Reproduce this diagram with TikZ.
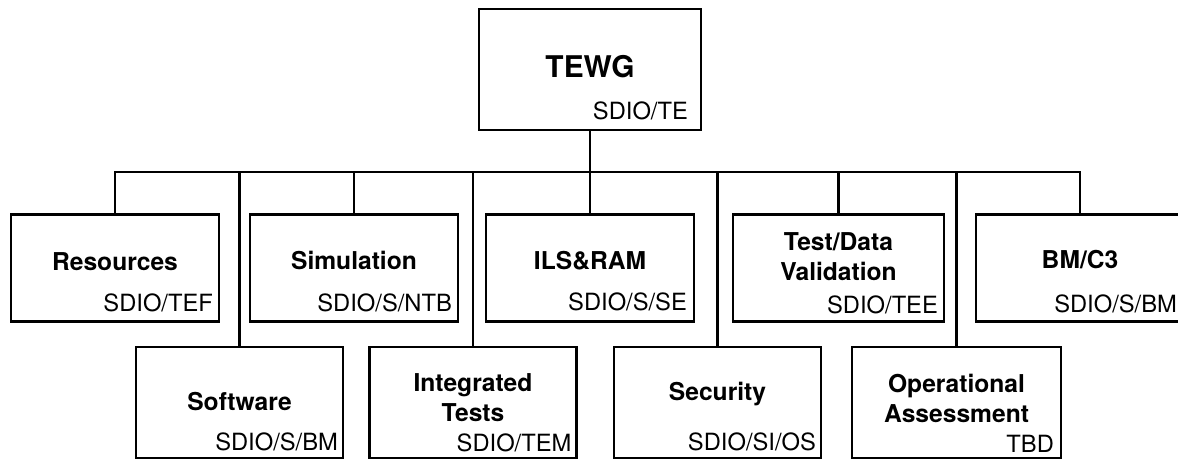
\documentclass[tikz,border=0pt]{standalone}
\usepackage{fontspec}
\setmainfont{TeX Gyre Heros}
\usepackage{tikz}
\usetikzlibrary{positioning}

\begin{document}
\begin{tikzpicture}[
          unit/.style={draw, line width=1.4pt, minimum width=4.16cm, minimum height=2.14cm, inner sep=0pt},
          lowunit/.style={unit, minimum width=4.14cm, minimum height=2.22cm},
          title/.style={anchor=base, align=center, inner sep=0pt, font=\fontsize{14}{16.8}\selectfont\bfseries},
          code/.style={anchor=base east, inner sep=0pt, font=\fontsize{13.5}{16}\selectfont},
          link/.style={line width=1.2pt}
        ]
        \useasboundingbox (0,0) rectangle (23.56,-9.2);
        % head of the group
        \node[unit, minimum width=4.44cm, minimum height=2.42cm] (tewg) at (11.8,-1.39) {};
        \node[title, font=\fontsize{17}{20}\selectfont\bfseries] (tewg-t) at ([yshift=-1.5mm]tewg.center) {TEWG};
        \node[code] (tewg-c) at ([xshift=-2.8mm,yshift=2.4mm]tewg.south east) {SDIO/TE};
        % upper row
        \node[unit] (res) at (2.30,-5.36) {};
        \node[unit] (sim) at (7.08,-5.36) {};
        \node[unit] (ils) at (11.8,-5.36) {};
        \node[unit, minimum width=4.22cm] (tdv) at (16.77,-5.36) {};
        \node[unit] (bmc) at (21.6,-5.36) {};
        % lower row
        \node[lowunit] (soft) at (4.79,-8.05) {};
        \node[lowunit] (integ) at (9.46,-8.05) {};
        \node[lowunit] (sec) at (14.35,-8.05) {};
        \node[lowunit, minimum width=4.18cm] (opas) at (19.13,-8.05) {};
        % titles (base = last line)
        \node[title] (res-t) at ([yshift=-0.5mm]res.center) {Resources};
        \node[title] (sim-t) at ([yshift=-0.3mm]sim.center) {Simulation};
        \node[title] (ils-t) at ([yshift=-0.2mm]ils.center) {ILS\&RAM};
        \node[title] (tdv-t) at ([yshift=-2.5mm]tdv.center) {Test/Data\\Validation};
        \node[title] (bmc-t) at (bmc.center) {BM/C3};
        \node[title] (soft-t) at ([yshift=-1.5mm]soft.center) {Software};
        \node[title] (integ-t) at ([yshift=-3.7mm]integ.center) {Integrated\\Tests};
        \node[title] (sec-t) at ([yshift=0.5mm]sec.center) {Security};
        \node[title] (opas-t) at ([yshift=-3.9mm]opas.center) {Operational\\Assessment};
        % office codes
        \node[code] (res-c) at ([xshift=-1.4mm,yshift=2.2mm]res.south east) {SDIO/TEF};
        \node[code] (sim-c) at ([xshift=-1.4mm,yshift=2.2mm]sim.south east) {SDIO/S/NTB};
        \node[code] (ils-c) at ([xshift=-1.6mm,yshift=2.4mm]ils.south east) {SDIO/S/SE};
        \node[code] (tdv-c) at ([xshift=-1.4mm,yshift=1.8mm]tdv.south east) {SDIO/TEE};
        \node[code] (bmc-c) at ([xshift=-1.6mm,yshift=2mm]bmc.south east) {SDIO/S/BM};
        \node[code] (soft-c) at ([xshift=-1.2mm,yshift=1.8mm]soft.south east) {SDIO/S/BM};
        \node[code] (integ-c) at ([xshift=-1.2mm,yshift=1.6mm]integ.south east) {SDIO/TEM};
        \node[code] (sec-c) at ([xshift=-1.2mm,yshift=1.8mm]sec.south east) {SDIO/SI/OS};
        \node[code] (opas-c) at ([xshift=-1.6mm,yshift=1.4mm]opas.south east) {TBD};
        % connectors
        \coordinate (bus) at (0,-3.44);
        \draw[link] (tewg.south) -- (ils.north);
        \draw[link] (res.north) |- (bus -| bmc.north) -- (bmc.north);
        \draw[link] (sim.north) -- (sim.north |- bus);
        \draw[link] (tdv.north) -- (tdv.north |- bus);
        \draw[link] (soft.north) -- (soft.north |- bus);
        \draw[link] (integ.north) -- (integ.north |- bus);
        \draw[link] (sec.north) -- (sec.north |- bus);
        \draw[link] (opas.north) -- (opas.north |- bus);
      \end{tikzpicture}
\end{document}
